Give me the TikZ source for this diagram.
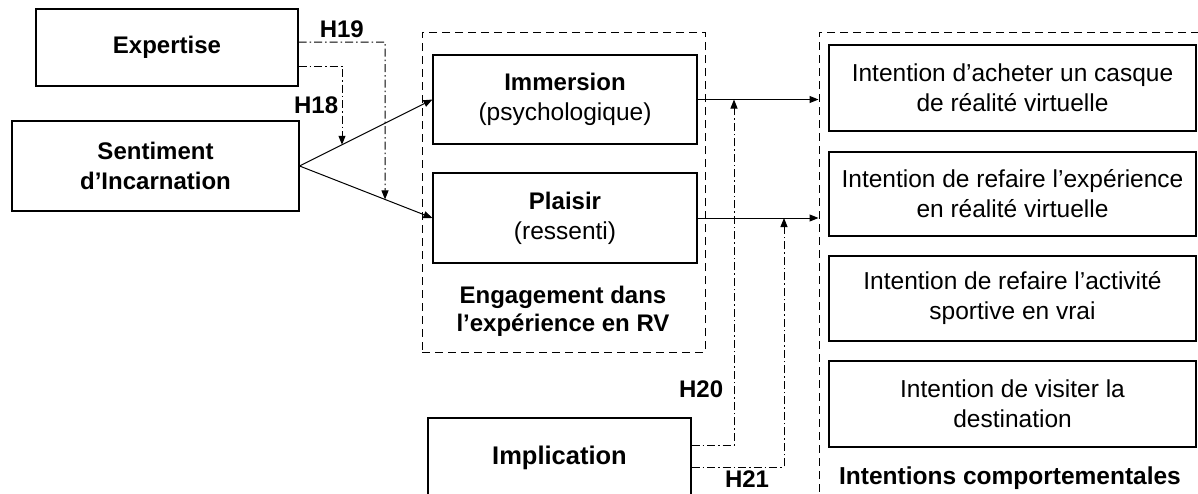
\documentclass[tikz,border=0pt]{standalone}
\usepackage{fontspec}
\setmainfont{Liberation Sans}
\usetikzlibrary{arrows.meta}
\newcommand\diagfont{\fontsize{24.5}{30}\selectfont}
\newcommand\headfont{\fontsize{24}{30}\selectfont\bfseries}

\begin{document}
\begin{tikzpicture}[x=1pt,y=-1pt,
    font=\diagfont,
    box/.style={draw,line width=1.1pt,align=center,inner sep=0pt},
    group/.style={draw,line width=1pt,dash pattern=on 8pt off 5pt,inner sep=0pt},
    link/.style={line width=1pt,-{Triangle[length=9pt,width=7pt]}},
    hyp/.style={link,dash pattern=on 8pt off 3pt on 1.5pt off 3pt},
    lbl/.style={font=\headfont}]
  \useasboundingbox (0,0) rectangle (1198,493);
  \clip (0,0) rectangle (1198,493);

  % dashed groups
  \node (eng) [group,minimum width=283pt,minimum height=320pt] at (563.5,192) {};
  \node (intg) [group,minimum width=400pt,minimum height=490pt] at (1019,277) {};

  % left side
  \node (exp) [box,font=\headfont,minimum width=262pt,minimum height=77pt] at (167,47.5) {Expertise};
  \node (sent) [box,font=\headfont,minimum width=287pt,minimum height=90pt] at (155.5,166) {Sentiment\\d’Incarnation};

  % engagement
  \node (imm) [box,minimum width=264pt,minimum height=89pt] at (565,99.5) {{\headfont Immersion}\\(psychologique)};
  \node (pla) [box,minimum width=264pt,minimum height=90pt] at (565,218) {{\headfont Plaisir}\\(ressenti)};
  \node (engt) [align=center,font=\fontsize{24}{28}\selectfont\bfseries] at (563,311) {Engagement dans\\l’expérience en RV};
  \node (impl) [box,font=\fontsize{25.5}{30}\selectfont\bfseries,minimum width=263pt,minimum height=80pt] at (559.5,458) {Implication};

  % intentions
  \node (int1) [box,minimum width=367pt,minimum height=86pt] at (1012.5,88) {Intention d’acheter un casque\\de réalité virtuelle};
  \node (int2) [box,minimum width=367pt,minimum height=84pt] at (1012.5,194) {Intention de refaire l’expérience\\en réalité virtuelle};
  \node (int3) [box,minimum width=367pt,minimum height=85pt] at (1012.5,298.5) {Intention de refaire l’activité\\sportive en vrai};
  \node (int4) [box,minimum width=367pt,minimum height=86pt] at (1012.5,404) {Intention de visiter la\\destination};
  \node (intt) [font=\fontsize{24.5}{30}\selectfont\bfseries] at (1010,478) {Intentions comportementales};

  % bends of the moderating links
  \coordinate (b19) at (385,42);
  \coordinate (d19) at (385,300);
  \coordinate (b18) at (342,66);
  \coordinate (d18) at (342,300);
  \coordinate (b20) at (734,445);
  \coordinate (b21) at (784,467);

  \draw[link] (sent.east) -- (imm.west);
  \draw[link] (sent.east) -- (pla.west);
  \draw[link] (imm.east) -- (imm.east -| intg.west);
  \draw[link] (pla.east) -- (pla.east -| intg.west);

  \draw[hyp] (exp.east |- b19) -- (b19) node [midway,above,lbl] {H19}
    -- (intersection of b19--d19 and sent.east--pla.west);
  \draw[hyp] (exp.east |- b18) -- (b18)
    -- (intersection of b18--d18 and sent.east--imm.west) node [midway,left,lbl] {H18};
  \draw[hyp] (impl.east |- b20) -- (b20)
    -- (b20 |- imm.east) node [pos=.16,left,xshift=-7pt,lbl] {H20};
  \draw[hyp] (impl.east |- b21) -- (b21) node [pos=.6,below,lbl] {H21}
    -- (b21 |- pla.east);
\end{tikzpicture}
\end{document}
